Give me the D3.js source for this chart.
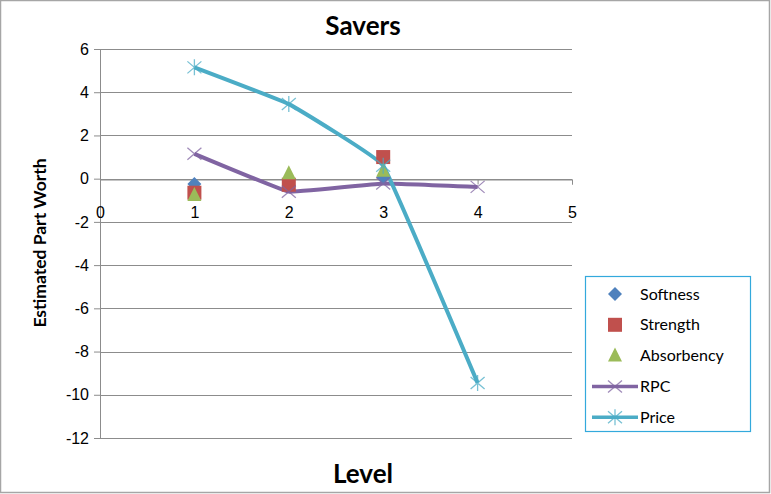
<!DOCTYPE html>
<html>
<head>
<meta charset="utf-8">
<script src="https://cdn.jsdelivr.net/npm/d3@7"></script>
<style>
  html, body { margin: 0; padding: 0; background: #fff; }
  svg { display: block; font-family: Lato, "Open Sans", "Liberation Sans", sans-serif; }
</style>
</head>
<body>
<svg id="chart" width="771" height="494"></svg>
<script>
// Estimated part worth per attribute level (Savers segment)
const levels = [1, 2, 3, 4];
const softness   = [-0.25, -0.3, 0.05];
const strength   = [-0.65, -0.28, 1.0];
const absorbency = [-0.75, 0.25, 0.37];
const rpc        = [1.15, -0.6, -0.22, -0.38];
const price      = [5.15, 3.45, 0.6, -9.45];
const yTicks = [6, 4, 2, 0, -2, -4, -6, -8, -10, -12];
const xTicks = [0, 1, 2, 3, 4, 5];

const series = [
  { name: "Softness",   values: softness,   color: "#4F81BD", marker: "diamond",  line: false },
  { name: "Strength",   values: strength,   color: "#C0504D", marker: "square",   line: false },
  { name: "Absorbency", values: absorbency, color: "#9BBB59", marker: "triangle", line: false },
  { name: "RPC",        values: rpc,        color: "#8064A2", marker: "x",        line: true },
  { name: "Price",      values: price,      color: "#4BACC6", marker: "star",     line: true }
];

const svg = d3.select("#chart");
const fmt = d => String(d); // plain hyphen minus, no decimals

// outer frame
svg.append("rect").attr("x", 0.5).attr("y", 0.5).attr("width", 769).attr("height", 492)
  .attr("fill", "#fff").attr("stroke", "#a6a6a6").attr("stroke-width", 1.5);

const x = d3.scaleLinear().domain([0, 5]).range([100, 572]);
const y = d3.scaleLinear().domain([-12, 6]).range([438, 49]);

// horizontal gridlines
svg.append("g").selectAll("line").data(yTicks).join("line")
  .attr("x1", x(0)).attr("x2", x(5))
  .attr("y1", d => Math.round(y(d)) + 0.5).attr("y2", d => Math.round(y(d)) + 0.5)
  .attr("stroke", "#8c8c8c").attr("stroke-width", 1);

// vertical value axis
const yAxis = d3.axisLeft(y).tickValues(yTicks).tickFormat(fmt).tickSize(6).tickPadding(5);
const gy = svg.append("g").attr("transform", `translate(${x(0)},0)`).call(yAxis);
gy.select(".domain").attr("stroke", "#8c8c8c");
gy.selectAll(".tick line").attr("stroke", "#8c8c8c");
gy.selectAll(".tick text").attr("font-size", 16).attr("fill", "#000");

// horizontal category axis crossing at zero
const xAxis = d3.axisBottom(x).tickValues(xTicks).tickFormat(fmt).tickSize(5).tickPadding(22);
const gx = svg.append("g").attr("transform", `translate(0,${Math.round(y(0)) + 0.5})`).call(xAxis);
gx.select(".domain").attr("stroke", "#8c8c8c");
gx.selectAll(".tick line").attr("stroke", "#8c8c8c");
gx.selectAll(".tick text").attr("font-size", 16).attr("fill", "#000");

// titles
svg.append("text").attr("x", 363).attr("y", 35).attr("text-anchor", "middle")
  .attr("font-size", 26).attr("font-weight", "bold").text("Savers");
svg.append("text").attr("x", 363).attr("y", 483).attr("text-anchor", "middle")
  .attr("font-size", 26).attr("font-weight", "bold").text("Level");
svg.append("text").attr("transform", "translate(46,243) rotate(-90)").attr("text-anchor", "middle")
  .attr("font-size", 17.5).attr("font-weight", "bold").text("Estimated Part Worth");

// marker shapes
function drawMarker(g, type, cx, cy, color) {
  if (type === "diamond") {
    g.append("path").attr("d", `M${cx},${cy - 7}L${cx + 7},${cy}L${cx},${cy + 7}L${cx - 7},${cy}Z`).attr("fill", color);
  } else if (type === "square") {
    g.append("rect").attr("x", cx - 7).attr("y", cy - 7).attr("width", 14).attr("height", 14).attr("fill", color);
  } else if (type === "triangle") {
    g.append("path").attr("d", `M${cx},${cy - 8}L${cx + 7},${cy + 6}L${cx - 7},${cy + 6}Z`).attr("fill", color);
  } else if (type === "x") {
    g.append("path").attr("d", `M${cx - 7},${cy - 6}L${cx + 7},${cy + 6}M${cx - 7},${cy + 6}L${cx + 7},${cy - 6}`)
      .attr("stroke", color).attr("stroke-width", 1.3).attr("fill", "none").attr("opacity", 0.75);
  } else if (type === "star") {
    g.append("path").attr("d", `M${cx - 7},${cy - 6}L${cx + 7},${cy + 6}M${cx - 7},${cy + 6}L${cx + 7},${cy - 6}M${cx},${cy - 8}L${cx},${cy + 8}`)
      .attr("stroke", color).attr("stroke-width", 1.3).attr("fill", "none").attr("opacity", 0.75);
  }
}

const lineGen = d3.line().x((d, i) => x(levels[i])).y(d => y(d)).curve(d3.curveCardinal.tension(0.8));

// connecting lines
series.filter(s => s.line).forEach(s => {
  svg.append("path").datum(s.values).attr("d", lineGen)
    .attr("fill", "none").attr("stroke", s.color).attr("stroke-width", 4).attr("stroke-linejoin", "round");
});

// markers
series.forEach(s => {
  const g = svg.append("g");
  s.values.forEach((v, i) => drawMarker(g, s.marker, x(levels[i]), y(v), s.color));
});

// legend
const lg = svg.append("g");
lg.append("rect").attr("x", 585.5).attr("y", 276.5).attr("width", 165).attr("height", 155)
  .attr("fill", "#fff").attr("stroke", "#33a9dc").attr("stroke-width", 1.2);
series.forEach((s, i) => {
  const cy = 294 + i * 30.8;
  if (s.line) {
    lg.append("line").attr("x1", 592).attr("x2", 638).attr("y1", cy).attr("y2", cy)
      .attr("stroke", s.color).attr("stroke-width", 3.5);
  }
  drawMarker(lg, s.marker, 615, cy, s.color);
  lg.append("text").attr("x", 640).attr("y", cy + 5.5).attr("font-size", 16).text(s.name);
});
</script>
</body>
</html>
